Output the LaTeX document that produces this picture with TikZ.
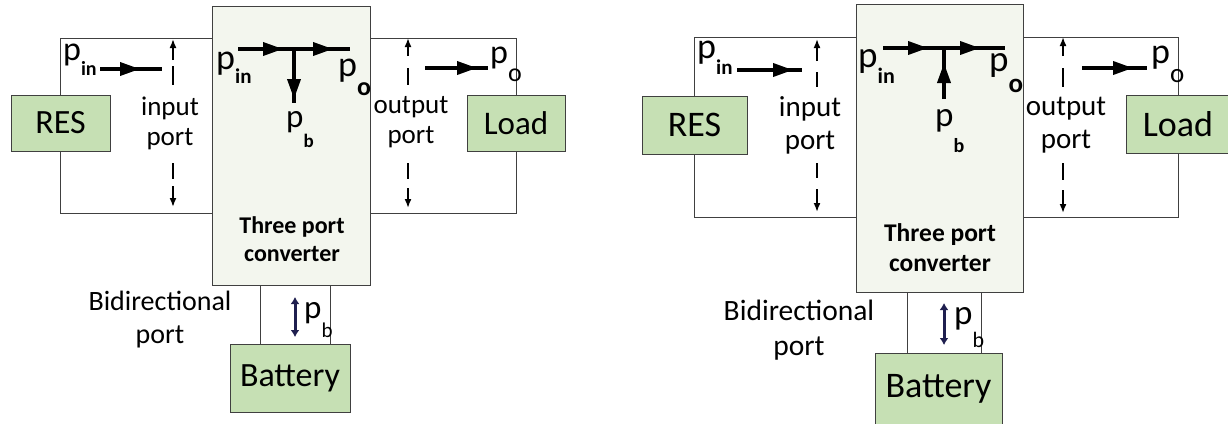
\documentclass[tikz,border=0pt]{standalone}
\usepackage{fontspec}
\setmainfont{Carlito}
\usetikzlibrary{arrows.meta}
\definecolor{boxgreen}{HTML}{C6E0B4}
\definecolor{convfill}{HTML}{F3F6EE}
\definecolor{edge}{HTML}{404040}
\definecolor{navy}{HTML}{1F1F4F}
\newcommand{\fs}[1]{\fontsize{#1}{#1}\selectfont}
\newcommand{\plab}[5]{{\fs{#1}p}\kern#4\raisebox{-#3}{\fs{#2}#5}}
\begin{document}
\begin{tikzpicture}[x=1pt,y=-1pt,
  gbox/.style={draw=edge, fill=boxgreen, line width=1pt, inner sep=0pt},
  conv/.style={draw=edge, fill=convfill, line width=1pt, inner sep=0pt},
  wire/.style={draw=edge, line width=0.9pt},
  power/.style={line width=3.6pt},
  head/.style={-{Triangle[length=20pt,width=13pt]}},
  portln/.style={line width=1.7pt},
  porttip/.style={-{Latex[length=9pt,width=7pt]}},
  batarr/.style={navy, line width=3pt, {Latex[length=7pt,width=9pt]}-{Latex[length=7pt,width=9pt]}},
  lbl/.style={inner sep=0pt, align=center},
  pl/.style={inner sep=0pt, anchor=base west}]
\clip (0,0) rectangle (1228,423);
\fill[white] (0,0) rectangle (1228,423);

% ================= LEFT =================
\coordinate (top1) at (0,38);
\coordinate (bot1) at (0,213);
\coordinate (bl1) at (260,0);
\coordinate (br1) at (330,0);
\node[conv, minimum width=158pt, minimum height=279pt] (conv1) at (291,145.5) {};
\node[gbox, minimum width=99pt, minimum height=56pt, font=\fs{34}] (res1) at (60.5,123) {RES};
\node[gbox, minimum width=98pt, minimum height=56pt, font=\fs{33}] (load1) at (516,123) {Load};
\node[gbox, minimum width=120pt, minimum height=68pt, font=\fs{34}] (bat1) at (290,378) {Battery};
\draw[wire] (res1.north) |- (conv1.west |- top1);
\draw[wire] (res1.south) |- (conv1.west |- bot1);
\draw[wire] (load1.north) |- (conv1.east |- top1);
\draw[wire] (load1.south) |- (conv1.east |- bot1);
\draw[wire] (conv1.south -| bl1) -- (bat1.north -| bl1);
\draw[wire] (conv1.south -| br1) -- (bat1.north -| br1);

\node[lbl, font=\fontsize{24}{28}\selectfont\bfseries] (tpc1) at (292,239) {Three port\\converter};
\node[lbl, font=\fontsize{28}{33}\selectfont] (bid1) at (160,320) {Bidirectional\\port};
\node[lbl, font=\fontsize{27}{30}\selectfont] (in1) at (170,123) {input\\port};
\node[lbl, font=\fontsize{27}{30}\selectfont] (out1) at (411,122) {output\\port};

% port arrows
\draw[portln, porttip] (173,60) -- (173,39);
\draw[portln] (173,66) -- (173,85);
\draw[portln] (173,163) -- (173,179);
\draw[portln, porttip] (173,186) -- (173,207);
\draw[portln, porttip] (408,56) -- (408,38);
\draw[portln] (408,68) -- (408,85);
\draw[portln] (408,163) -- (408,179);
\draw[portln, porttip] (408,188) -- (408,208);

% power flows
\node[pl] (pin1) at (63,60) {\plab{34}{20}{15pt}{0pt}{\bfseries in}};
\draw[power] (100,69) -- (162,69);
\draw[power, head] (100,69) -- (140,69);
\node[pl] (po1) at (490,63) {\plab{34}{26}{18pt}{0pt}{o}};
\draw[power] (425,68) -- (488,68);
\draw[power, head] (425,68) -- (477,68);

\node[pl] (cpin1) at (216,69) {\plab{36}{21}{14pt}{0pt}{\bfseries in}};
\node[pl] (cpo1) at (338,76) {\plab{36}{26}{19pt}{0pt}{\bfseries o}};
\node[pl] (cpb1) at (286,127) {\plab{33}{19}{20pt}{0pt}{\bfseries b}};
\draw[power] (238,49) -- (350,49);
\draw[power, head] (238,49) -- (283,49);
\draw[power, head] (283,49) -- (333,49);
\draw[power] (294,49) -- (294,103);
\draw[power, head] (294,49) -- (294,99);

\node[pl] (bpb1) at (304,318) {\plab{33}{21}{19pt}{0pt}{b}};
\draw[batarr] (295,297) -- (295,337);

% ================= RIGHT =================
\coordinate (top2) at (0,37);
\coordinate (bot2) at (0,217);
\coordinate (bl2) at (907,0);
\coordinate (br2) at (981,0);
\node[conv, minimum width=167pt, minimum height=288pt] (conv2) at (939.5,148) {};
\node[gbox, minimum width=105pt, minimum height=58pt, font=\fs{36}] (res2) at (694.5,125) {RES};
\node[gbox, minimum width=104pt, minimum height=58pt, font=\fs{36}] (load2) at (1178,124) {Load};
\node[gbox, minimum width=127pt, minimum height=72pt, font=\fs{36}] (bat2) at (938.5,389) {Battery};
\draw[wire] (res2.north) |- (conv2.west |- top2);
\draw[wire] (res2.south) |- (conv2.west |- bot2);
\draw[wire] (load2.north) |- (conv2.east |- top2);
\draw[wire] (load2.south) |- (conv2.east |- bot2);
\draw[wire] (conv2.south -| bl2) -- (bat2.north -| bl2);
\draw[wire] (conv2.south -| br2) -- (bat2.north -| br2);

\node[lbl, font=\fontsize{25.5}{30}\selectfont\bfseries] (tpc2) at (940,248) {Three port\\converter};
\node[lbl, font=\fontsize{29.5}{35}\selectfont] (bid2) at (799,330) {Bidirectional\\port};
\node[lbl, font=\fontsize{29}{33}\selectfont] (in2) at (810,125) {input\\port};
\node[lbl, font=\fontsize{29}{33}\selectfont] (out2) at (1066,125) {output\\port};

\draw[portln, porttip] (817,61) -- (817,39);
\draw[portln] (817,72) -- (817,87);
\draw[portln] (817,163) -- (817,178);
\draw[portln, porttip] (817,189) -- (817,212);
\draw[portln, porttip] (1063,56) -- (1063,37);
\draw[portln] (1063,68) -- (1063,87);
\draw[portln] (1063,163) -- (1063,180);
\draw[portln, porttip] (1063,190) -- (1063,213);

\node[pl] (pin2) at (697,58) {\plab{36}{21}{16pt}{0pt}{\bfseries in}};
\draw[power] (737,70) -- (802,70);
\draw[power, head] (737,70) -- (793,70);
\node[pl] (po2) at (1151,63) {\plab{36}{27}{19pt}{0pt}{o}};
\draw[power] (1082,68) -- (1147,68);
\draw[power, head] (1082,68) -- (1133,68);

\node[pl] (cpin2) at (858,67) {\plab{37}{22}{16pt}{0pt}{\bfseries in}};
\node[pl] (cpo2) at (989,71) {\plab{37}{27}{21pt}{0pt}{\bfseries o}};
\node[pl] (cpb2) at (935,126) {\plab{35}{20}{26pt}{0pt}{\bfseries b}};
\draw[power] (883,48) -- (1005,48);
\draw[power, head] (883,48) -- (928,48);
\draw[power, head] (928,48) -- (980,48);
\draw[power] (944,48) -- (944,99);
\draw[power, head] (944,99) -- (944,63);

\node[pl] (bpb2) at (954,324) {\plab{35}{22}{23pt}{0pt}{b}};
\draw[batarr] (944,303) -- (944,345);
\end{tikzpicture}
\end{document}
